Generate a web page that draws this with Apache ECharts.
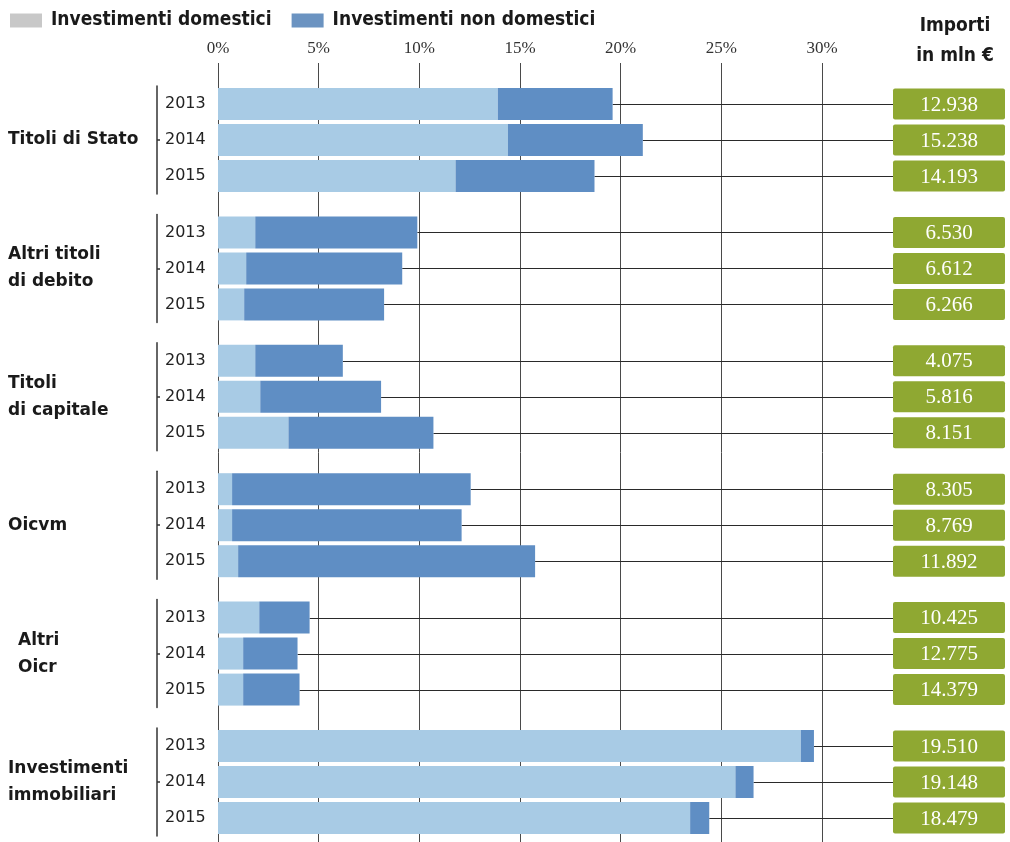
<!DOCTYPE html>
<html><head><meta charset="utf-8">
<script src="https://cdn.jsdelivr.net/npm/echarts@6/dist/echarts.min.js"></script>
<style>html,body{margin:0;padding:0;background:#fff}#c{width:1010px;height:842px}</style>
</head><body><div id="c"></div>
<script>
// ---- data ----
const groups = ['Titoli di Stato', 'Altri titoli\ndi debito', 'Titoli\ndi capitale', 'Oicvm', 'Altri\nOicr', 'Investimenti\nimmobiliari'];
const years = ['2013', '2014', '2015'];
const seriesNames = ['Investimenti domestici', 'Investimenti non domestici'];
const xTickStep = 5;
const xMax = 30;
// share of investments (%), per group, per year
const domestic = [[13.9, 14.4, 11.8], [1.85, 1.4, 1.3], [1.85, 2.1, 3.5], [0.7, 0.7, 1.0], [2.05, 1.25, 1.25], [28.95, 25.7, 23.45]];
const nonDomestic = [[5.7, 6.7, 6.9], [8.05, 7.75, 6.95], [4.35, 6.0, 7.2], [11.85, 11.4, 14.75], [2.5, 2.7, 2.8], [0.65, 0.9, 0.95]];
// amounts, mln €
const amounts = [[12938, 15238, 14193], [6530, 6612, 6266], [4075, 5816, 8151], [8305, 8769, 11892], [10425, 12775, 14379], [19510, 19148, 18479]];

// ---- style / layout ----
const C_DOM = '#a8cbe5', C_NON = '#5f8ec4', C_DOM_LEG = '#c8c8c8', C_NON_LEG = '#6b93c1', C_BOX = '#8fa832';
const GL = 218, GR = 188, TOP0 = 86, STEP = 128.4, GH = 108;
const nameIndent = [0, 0, 0, 0, 10, 0];
const fmt = n => String(n).replace(/\B(?=(\d{3})+(?!\d))/g, '.');

const grid = [], xAxis = [], yAxis = [], series = [];
groups.forEach((g, i) => {
  grid.push({left: GL, right: GR, top: TOP0 + STEP * i, height: GH, containLabel: false, outerBoundsMode: 'none'});
  xAxis.push({type: 'value', gridIndex: i, min: 0, max: xMax, show: false});
  yAxis.push({
    type: 'category', gridIndex: i, data: years, inverse: true, offset: 61, position: 'left',
    axisLine: {show: true, onZero: false, lineStyle: {color: '#333', width: 1.5}},
    axisTick: {show: true, inside: true, length: 3, alignWithLabel: true, interval: (idx) => idx === 1, lineStyle: {color: '#333', width: 1.5}},
    axisLabel: {inside: true, margin: 8, color: '#222', fontFamily: 'DejaVu Sans', fontSize: 16},
    name: g, nameLocation: 'middle', nameRotate: 0, nameGap: 149 - nameIndent[i],
    nameTextStyle: {align: 'left', verticalAlign: 'middle', fontFamily: 'DejaVu Sans', fontWeight: 'bold', fontSize: 17, lineHeight: 27, color: '#1a1a1a'}
  });
  series.push({type: 'bar', name: seriesNames[0], stack: 's' + i, xAxisIndex: i, yAxisIndex: i, barWidth: 32,
    itemStyle: {color: C_DOM}, data: domestic[i], z: 3});
  series.push({type: 'bar', name: seriesNames[1], stack: 's' + i, xAxisIndex: i, yAxisIndex: i, barWidth: 32,
    itemStyle: {color: C_NON}, data: nonDomestic[i], z: 3});
  series.push({
    type: 'custom', xAxisIndex: i, yAxisIndex: i, clip: false, z: 2,
    encode: {x: 0, y: 1},
    data: years.map((y, k) => [domestic[i][k] + nonDomestic[i][k], k, amounts[i][k]]),
    renderItem: (params, api) => {
      const p = api.coord([api.value(0), api.value(1)]);
      const cs = params.coordSys;
      const boxL = cs.x + cs.width + 71, boxW = 112, boxH = 31;
      const yl = Math.round(p[1]) + 0.5;
      return {type: 'group', children: [
        {type: 'line', shape: {x1: p[0], y1: yl, x2: boxL, y2: yl}, style: {stroke: '#2a2a2a', lineWidth: 1.2}},
        {type: 'rect', shape: {x: boxL, y: p[1] - boxH / 2, width: boxW, height: boxH, r: 2}, style: {fill: C_BOX}},
        {type: 'text', style: {x: boxL + boxW / 2, y: p[1] + 1, text: fmt(api.value(2)), align: 'center', verticalAlign: 'middle',
          fill: '#fff', fontFamily: 'Liberation Serif', fontSize: 21}}
      ]};
    }
  });
});
// master grid for the shared percentage axis and vertical grid lines
const M = groups.length;
grid.push({left: GL, right: GR, top: 63, bottom: 0, containLabel: false, outerBoundsMode: 'none'});
xAxis.push({type: 'value', gridIndex: M, position: 'top', min: 0, max: xMax, interval: xTickStep,
  axisLine: {show: false}, axisTick: {show: false},
  axisLabel: {formatter: '{value}%', margin: 6, color: '#333', fontFamily: 'Liberation Serif', fontSize: 17},
  splitLine: {show: true, lineStyle: {color: '#4a4a4a', width: 1}}});
yAxis.push({type: 'value', gridIndex: M, min: 0, max: 1, show: false});
series.push({type: 'bar', xAxisIndex: M, yAxisIndex: M, data: [], z: 1});

const chart = echarts.init(document.getElementById('c'), null, {renderer: 'canvas'});
chart.setOption({
  animation: false,
  backgroundColor: '#fff',
  title: {text: 'Importi\nin mln €', left: 950, top: 6, textAlign: 'center',
    textStyle: {fontFamily: "'DejaVu Sans Condensed','Liberation Sans Narrow',sans-serif", fontWeight: 'bold', fontSize: 19, lineHeight: 30, color: '#1a1a1a'}},
  legend: {left: 5, top: 6, itemWidth: 32, itemHeight: 14, itemGap: 20, icon: 'rect',
    textStyle: {fontFamily: "'DejaVu Sans Condensed','Liberation Sans Narrow',sans-serif", fontWeight: 'bold', fontSize: 19, color: '#1a1a1a', padding: [0, 0, 0, 4]},
    data: [{name: seriesNames[0], itemStyle: {color: C_DOM_LEG}}, {name: seriesNames[1], itemStyle: {color: C_NON_LEG}}]},
  grid, xAxis, yAxis, series
});
</script></body></html>
